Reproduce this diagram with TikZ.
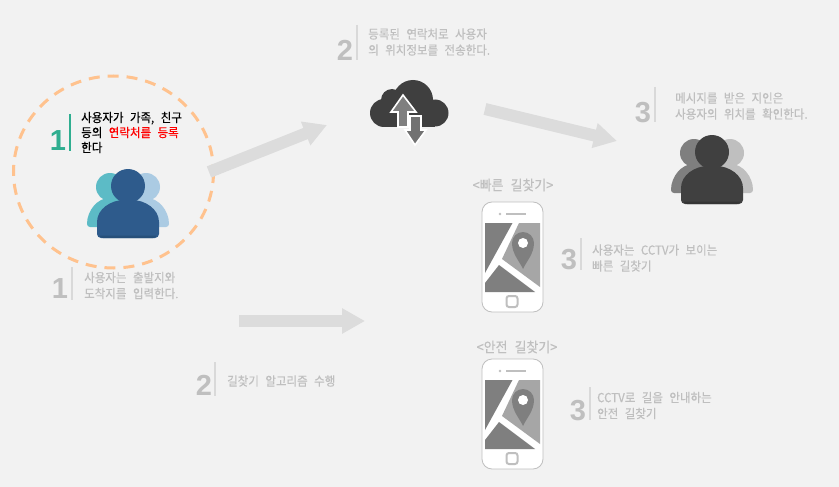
\documentclass[tikz,border=0pt]{standalone}
\usepackage{fontspec}
\setmainfont{Liberation Sans}
\newfontfamily\kr[WordSpace=2.5,FakeStretch=0.92,FakeBold=0.25]{Noto Sans CJK KR}
\usetikzlibrary{arrows.meta}
\definecolor{bggray}{HTML}{F2F2F2}
\definecolor{labelgray}{HTML}{BFBFBF}
\definecolor{bargray}{HTML}{D9D9D9}
\definecolor{arrowgray}{HTML}{DCDCDC}
\definecolor{stepgreen}{HTML}{2FAE90}
\definecolor{ringorange}{HTML}{FFC28E}
\definecolor{mapdark}{HTML}{7F7F7F}
\definecolor{maplight}{HTML}{A6A6A6}
\definecolor{clouddark}{HTML}{3F3F3F}
\definecolor{frontblue}{HTML}{2E5B8C}
\definecolor{stripeblue}{HTML}{27507A}
\definecolor{backteal}{HTML}{5CBBC6}
\definecolor{backblue}{HTML}{ABCBE3}
\definecolor{frontgray}{HTML}{404040}
\definecolor{stripegray}{HTML}{353535}
\tikzset{
	desc/.style={anchor=west,align=left,inner sep=0pt,text=labelgray,font=\fontsize{12.5}{16}\selectfont\kr},
	titletext/.style={inner sep=0pt,text=labelgray,font=\fontsize{14}{16}\selectfont\kr},
	stepnum/.style={inner sep=0pt,font=\fontsize{29}{29}\selectfont\bfseries},
	bigarrow/.style={line width=12pt,arrowgray,-{Triangle[length=23pt,width=24pt]}}
}
% one person with two behind, centred on the front head
\newcommand{\crowd}[6]{
	\begin{scope}[shift={(#1,#2)}]
		\foreach \s/\c in {-1/#4,1/#5} {
			\fill[\c] (\s*18,1) circle (14);
			\fill[\c,rounded corners=3] (\s*41,41) .. controls (\s*41,24) and (\s*30,12) .. (\s*16,12) .. controls (\s*6,12) and (0,30) .. (0,41) -- cycle;
		}
		\fill[#3] (0,0) circle (17);
		\fill[#3,rounded corners=4] (-31,52) -- (-31,40) .. controls (-31,23) and (-17,14) .. (0,14) .. controls (17,14) and (31,23) .. (31,40) -- (31,52) -- cycle;
		\fill[#6,rounded corners=2] (-29,49.5) -- (29,49.5) -- (27,52) -- (-27,52) -- cycle;
	\end{scope}
}
% phone with the map on its screen
\newcommand{\phone}[2]{
	\begin{scope}[shift={(#1,#2)}]
		\draw[labelgray,fill=white,line width=0.8pt,rounded corners=10] (0,0) rectangle (61,110);
		\fill[labelgray] (18,12) circle (1.3);
		\draw[labelgray,line width=1.8pt] (24,12) -- (44,12);
		\draw[labelgray,line width=2pt,rounded corners=2.5] (24.5,94) rectangle (35.5,105);
		\fill[mapdark] (3,21) -- (30.5,21) -- (3,71) -- cycle;
		\fill[maplight] (37,21) -- (58,21) -- (58,85) -- (20,57) -- cycle;
		\fill[mapdark] (17,63) -- (53,90) -- (3,90) -- (3,81) -- cycle;
		\fill[mapdark] (30,41) arc[start angle=180,end angle=360,radius=11] .. controls (52,52) and (44,60) .. (41,67) .. controls (38,60) and (30,52) .. (30,41) -- cycle;
		\fill[white] (41,41) circle (5);
	\end{scope}
}
\begin{document}
\begin{tikzpicture}[x=1pt,y=-1pt]
	\useasboundingbox (0,0) rectangle (839,487);
	\fill[bggray] (0,0) rectangle (839,487);

	% Dashed ring
	\draw[ringorange,line width=3pt,dash pattern=on 11pt off 8pt] (113.5,172) ellipse (100 and 96);

	% Big arrows
	\coordinate (arrowA) at (209,172);
	\coordinate (arrowAend) at (327,125);
	\coordinate (arrowB) at (485,109);
	\coordinate (arrowBend) at (617,141);
	\coordinate (arrowC) at (239,321);
	\coordinate (arrowCend) at (365,321);
	\draw[bigarrow] (arrowA) -- (arrowAend);
	\draw[bigarrow] (arrowB) -- (arrowBend);
	\draw[bigarrow] (arrowC) -- (arrowCend);

	% People
	\crowd{128}{186}{frontblue}{backteal}{backblue}{stripeblue}
	\crowd{712}{152}{frontgray}{mapdark}{labelgray}{stripegray}

	% Cloud
	\fill[clouddark] (413,100) circle (20);
	\fill[clouddark] (392,100) circle (11);
	\fill[clouddark] (384,113) circle (14);
	\fill[clouddark] (435,113) circle (13.5);
	\fill[clouddark] (384,105) rectangle (435,127);
	\draw[white,fill=mapdark,line width=1.6pt] (403,95) -- (391,112) -- (398,112) -- (398,127) -- (408,127) -- (408,112) -- (416,112) -- cycle;
	\draw[white,fill=mapdark!90!black,line width=1.6pt] (410,116) -- (421,116) -- (421,130) -- (426,130) -- (415,145) -- (405,130) -- (410,130) -- cycle;

	% Phones
	\phone{482}{202}
	\phone{482}{359}
	\node[titletext] (fastTitle) at (513,185) {<빠른 길찾기>};
	\node[titletext] (safeTitle) at (517,347) {<안전 길찾기>};

	% Numbers and bars
	\foreach \nm/\d/\x/\y/\bx/\ya/\yb in {b/1/60/289/72/267/300,c/2/345/50/357/25/60,d/3/643/113/655/87/122,e/3/569/260/581/238/270,f/3/578/411/590/387/420,g/2/204/385/215/362/396} {
		\node[stepnum,text=labelgray] (num\nm) at (\x,\y) {\d};
		\draw[bargray,line width=2.5pt] (\bx,\ya) -- (\bx,\yb);
	}
	\node[stepnum,text=stepgreen] (numa) at (58,141) {1};
	\draw[stepgreen,line width=2.5pt] (70,114) -- (70,151);

	% Texts
	\node[desc,text=black,font=\fontsize{12.5}{15}\selectfont\kr] (descA) at (81,132.5) {사용자가 가족, 친구\\등의 \textcolor{red}{연락처를 등록}\\한다};
	\node[desc] (descB) at (84,285.5) {사용자는 출발지와\\도착지를 입력한다.};
	\node[desc] (descC) at (368,42) {등록된 연락처로 사용자\\의 위치정보를 전송한다.};
	\node[desc] (descD) at (675,106) {메시지를 받은 지인은\\사용자의 위치를 확인한다.};
	\node[desc] (descE) at (592,258) {사용자는 CCTV가 보이는\\빠른 길찾기};
	\node[desc] (descF) at (597,405.5) {CCTV로 길을 안내하는\\안전 길찾기};
	\node[desc] (descG) at (227,381) {길찾기 알고리즘 수행};
\end{tikzpicture}
\end{document}
